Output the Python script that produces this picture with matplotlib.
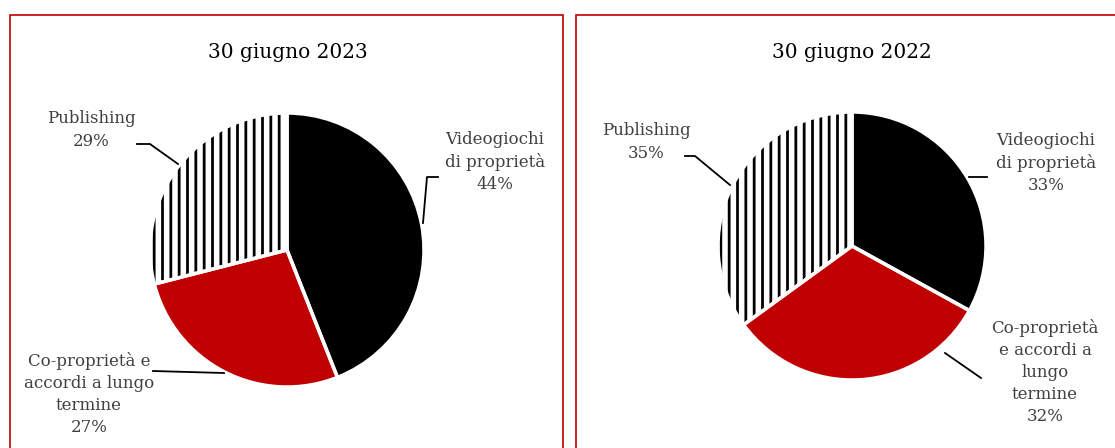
import matplotlib.pyplot as plt
from matplotlib.patches import Rectangle

plt.rcParams['font.family'] = ['DejaVu Serif']
plt.rcParams['hatch.linewidth'] = 2.0

# dati
categorie = ['Videogiochi\ndi proprietà', 'Co-proprietà e\naccordi a lungo\ntermine', 'Publishing']
categorie_2022 = ['Videogiochi\ndi proprietà', 'Co-proprietà\ne accordi a\nlungo\ntermine', 'Publishing']
valori_2023 = [44, 27, 29]
valori_2022 = [33, 32, 35]
titoli = ['30 giugno 2023', '30 giugno 2022']

ROSSO = '#c00000'
GRIGIO = '#404040'

W, H = 1115, 448
fig = plt.figure(figsize=(W / 100, H / 100), dpi=100)

# riquadri rossi
fig.patches.append(Rectangle((10 / W, -0.1), 553 / W, 1.1 - 15 / H, transform=fig.transFigure,
                             fill=False, edgecolor=ROSSO, linewidth=1.2))
fig.patches.append(Rectangle((576 / W, -0.1), 600 / W, 1.1 - 15 / H, transform=fig.transFigure,
                             fill=False, edgecolor=ROSSO, linewidth=1.2))


def pannello(cx, cy, r, valori, etichette, titolo, tx, pos_label, linee):
    ax = fig.add_axes([(cx - r) / W, (H - cy - r) / H, 2 * r / W, 2 * r / H])
    colori = ['black', ROSSO, 'white']
    wedges, _ = ax.pie(valori, startangle=90, counterclock=False, colors=colori,
                       radius=1, wedgeprops=dict(linewidth=0))
    wedges[2].set_hatch('||')
    wedges[2].set_edgecolor('black')
    wedges[2].set_linewidth(0)
    # separatori bianchi
    ax.pie(valori, startangle=90, counterclock=False, colors=['none'] * 3,
           radius=1, wedgeprops=dict(linewidth=2.5, edgecolor='white'))
    ax.set_xlim(-1, 1)
    ax.set_ylim(-1, 1)
    ax.set_aspect('equal')
    ax.axis('off')

    def d(px, py):
        return (px - cx) / r, (cy - py) / r

    for i, (lab, v) in enumerate(zip(etichette, valori)):
        x, y = d(*pos_label[i])
        ax.text(x, y, f'{lab}\n{v}%', ha='center', va='center', fontsize=12,
                color=GRIGIO, linespacing=1.4, clip_on=False)
        pts = [d(*p) for p in linee[i]]
        ax.plot([p[0] for p in pts], [p[1] for p in pts], color='black',
                linewidth=1.3, clip_on=False, zorder=5)

    fig.text(tx / W, 1 - 52 / H, titolo, ha='center', va='center', fontsize=14.5, color='black')


pannello(287, 250, 137, valori_2023, categorie, titoli[0], 288,
         [(495, 162), (89, 394), (91, 130)],
         [[(438, 177), (427, 177), (423, 223)],
          [(153, 371), (224, 373)],
          [(137, 144), (150, 144), (178, 164)]])

pannello(852, 246, 134, valori_2022, categorie_2022, titoli[1], 852,
         [(1046, 163), (1045, 372), (646, 142)],
         [[(987, 177), (969, 177)],
          [(981, 378), (945, 353)],
          [(685, 156), (695, 156), (730, 185)]])

fig.savefig('out.png', dpi=100)
